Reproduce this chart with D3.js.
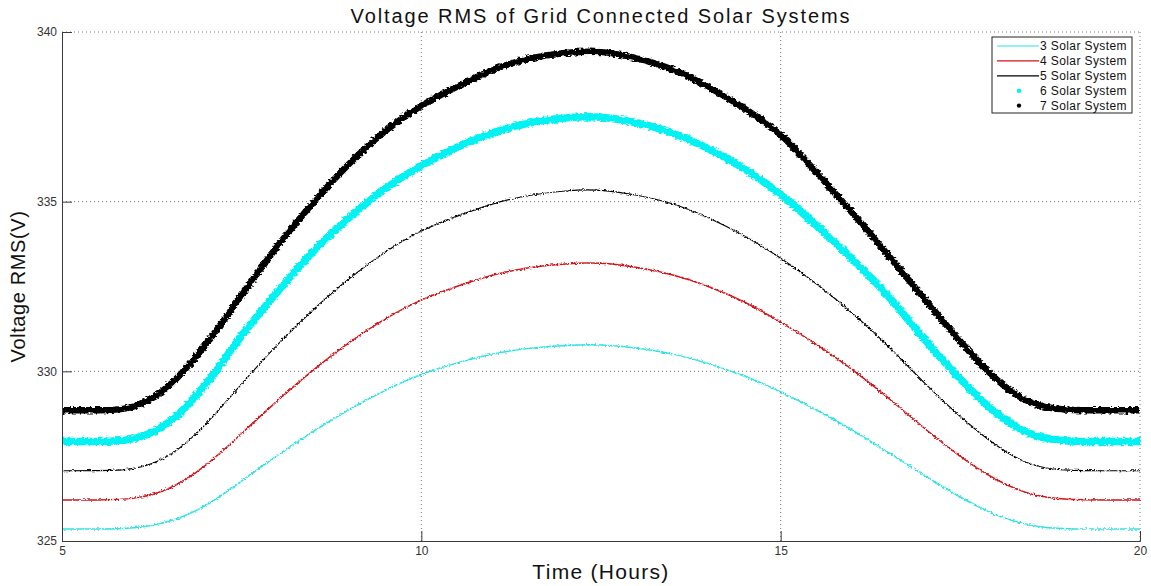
<!DOCTYPE html>
<html>
<head>
<meta charset="utf-8">
<script src="https://cdn.jsdelivr.net/npm/d3@7"></script>
<style>
  body { margin: 0; background: #fff; }
  svg { display: block; font-family: "Liberation Sans", Arial, sans-serif; }
</style>
</head>
<body>
<div id="chart"></div>
<script>
// hours, every half hour
var hours = [5, 5.5, 6, 6.5, 7, 7.5, 8, 8.5, 9, 9.5, 10, 10.5, 11, 11.5, 12, 12.5,
             13, 13.5, 14, 14.5, 15, 15.5, 16, 16.5, 17, 17.5, 18, 18.5, 19, 19.5, 20];

var sys3 = [325.35, 325.35, 325.36, 325.54, 326.00, 326.77, 327.53, 328.24, 328.89, 329.46, 329.93, 330.26, 330.53, 330.69, 330.77, 330.80,
            330.69, 330.53, 330.23, 329.87, 329.41, 328.87, 328.27, 327.61, 326.93, 326.28, 325.73, 325.42, 325.35, 325.35, 325.35];
var sys4 = [326.21, 326.21, 326.22, 326.49, 327.19, 328.17, 329.15, 330.06, 330.87, 331.57, 332.13, 332.51, 332.86, 333.07, 333.18, 333.21,
            333.07, 332.86, 332.51, 332.06, 331.46, 330.80, 330.06, 329.22, 328.31, 327.47, 326.77, 326.32, 326.21, 326.21, 326.21];
var sys5 = [327.07, 327.07, 327.08, 327.44, 328.40, 329.64, 330.81, 331.84, 332.76, 333.54, 334.17, 334.58, 334.96, 335.20, 335.33, 335.37,
            335.20, 334.96, 334.54, 334.00, 333.35, 332.59, 331.72, 330.76, 329.64, 328.65, 327.78, 327.17, 327.07, 327.07, 327.07];
var sys6 = [327.93, 327.93, 327.94, 328.41, 329.56, 331.10, 332.35, 333.59, 334.55, 335.42, 336.09, 336.62, 337.05, 337.34, 337.48, 337.53,
            337.34, 337.05, 336.57, 335.99, 335.23, 334.31, 333.31, 332.25, 330.91, 329.75, 328.70, 328.05, 327.93, 327.93, 327.93];
var sys7 = [328.85, 328.85, 328.86, 329.49, 330.76, 332.24, 333.73, 335.00, 336.16, 337.12, 337.86, 338.39, 338.92, 339.24, 339.40, 339.45,
            339.24, 338.92, 338.39, 337.75, 337.05, 335.85, 334.68, 333.41, 332.14, 330.86, 329.70, 328.96, 328.85, 328.85, 328.85];

var seriesNames = ["3 Solar System", "4 Solar System", "5 Solar System", "6 Solar System", "7 Solar System"];
var xTicks = [5, 10, 15, 20];
var yTicks = [325, 330, 335, 340];

var outerWidth = 1151,
    outerHeight = 586,
    margin = { top: 32, right: 11, bottom: 45, left: 62 },
    width = outerWidth - margin.left - margin.right,
    height = outerHeight - margin.top - margin.bottom;

var x = d3.scaleLinear().domain([5, 20]).range([0, width]);
var y = d3.scaleLinear().domain([325, 340]).range([height, 0]);

var series = [
    { name: seriesNames[0], values: sys3, color: "#30e2e2", w: 1.5, jitter: "url(#jitterThin)" },
    { name: seriesNames[1], values: sys4, color: "#d0161b", w: 1.5, jitter: "url(#jitterThin)" },
    { name: seriesNames[2], values: sys5, color: "#000000", w: 1.2, jitter: "url(#jitterThin)" },
    { name: seriesNames[3], values: sys6, color: "#00f2f2", w: 7.5, jitter: "url(#jitterThick)", dot: true },
    { name: seriesNames[4], values: sys7, color: "#000000", w: 6.5, jitter: "url(#jitterThick)", dot: true }
];

var svg = d3.select("#chart")
    .append("svg")
    .attr("width", outerWidth)
    .attr("height", outerHeight);

// rough edges like the sampled signal
var defs = svg.append("defs");
function jitterFilter(id, freq, scale) {
    var f = defs.append("filter")
        .attr("id", id)
        .attr("filterUnits", "userSpaceOnUse")
        .attr("x", 0).attr("y", 0)
        .attr("width", outerWidth).attr("height", outerHeight);
    f.append("feTurbulence")
        .attr("type", "fractalNoise")
        .attr("baseFrequency", freq)
        .attr("numOctaves", 2)
        .attr("seed", 3)
        .attr("result", "noise");
    f.append("feDisplacementMap")
        .attr("in", "SourceGraphic")
        .attr("in2", "noise")
        .attr("scale", scale)
        .attr("xChannelSelector", "R")
        .attr("yChannelSelector", "G");
}
jitterFilter("jitterThick", "0.3 0.45", 5);
jitterFilter("jitterThin", "0.45 0.8", 3.5);

var g = svg.append("g")
    .attr("transform", "translate(" + margin.left + "," + margin.top + ")");

// dotted grid
g.selectAll(".vgrid")
    .data(xTicks.slice(1))
    .enter().append("line")
    .attr("class", "vgrid")
    .attr("x1", function(d) { return x(d); })
    .attr("x2", function(d) { return x(d); })
    .attr("y1", 0)
    .attr("y2", height)
    .style("stroke", "#777")
    .style("stroke-width", 1)
    .style("stroke-dasharray", "1,3");

g.selectAll(".hgrid")
    .data(yTicks.slice(1))
    .enter().append("line")
    .attr("class", "hgrid")
    .attr("x1", 0)
    .attr("x2", width)
    .attr("y1", function(d) { return y(d); })
    .attr("y2", function(d) { return y(d); })
    .style("stroke", "#777")
    .style("stroke-width", 1)
    .style("stroke-dasharray", "1,3");

var line = d3.line()
    .x(function(d, i) { return x(hours[i]); })
    .y(function(d) { return y(d); })
    .curve(d3.curveBasis);

g.selectAll(".series")
    .data(series)
    .enter().append("path")
    .attr("class", "series")
    .attr("d", function(d) { return line(d.values); })
    .attr("filter", function(d) { return d.jitter; })
    .style("fill", "none")
    .style("stroke", function(d) { return d.color; })
    .style("stroke-width", function(d) { return d.w; })
    .style("stroke-linejoin", "round");

// axes (matlab style, ticks inward)
var xAxis = d3.axisBottom(x).tickValues(xTicks).tickSize(-10).tickPadding(14);
var yAxis = d3.axisLeft(y).tickValues(yTicks).tickSize(-10).tickPadding(16);

var gx = g.append("g")
    .attr("transform", "translate(0," + height + ")")
    .call(xAxis);
var gy = g.append("g")
    .call(yAxis);

[gx, gy].forEach(function(a) {
    a.select(".domain").style("stroke", "#3a3a3a");
    a.selectAll(".tick line").style("stroke", "#3a3a3a");
    a.selectAll(".tick text")
        .style("font-family", "Liberation Sans, Arial, sans-serif")
        .style("font-size", "12px")
        .style("fill", "#333");
});
gx.selectAll(".tick text").attr("y", 5).attr("dy", "0.71em");
gy.selectAll(".tick text").attr("x", -5);

// titles
svg.append("text")
    .attr("x", margin.left + width / 2)
    .attr("y", 23)
    .style("text-anchor", "middle")
    .style("font-size", "20px")
    .style("letter-spacing", "1.9px")
    .style("fill", "#111")
    .text("Voltage RMS of Grid Connected Solar Systems");

svg.append("text")
    .attr("x", margin.left + width / 2)
    .attr("y", 579)
    .style("text-anchor", "middle")
    .style("font-size", "21px")
    .style("letter-spacing", "1.3px")
    .style("fill", "#111")
    .text("Time (Hours)");

svg.append("text")
    .attr("transform", "translate(25," + (margin.top + height / 2) + ") rotate(-90)")
    .style("text-anchor", "middle")
    .style("font-size", "20px")
    .style("letter-spacing", "0.6px")
    .style("fill", "#111")
    .text("Voltage RMS(V)");

// legend
var legend = svg.append("g")
    .attr("transform", "translate(992,37)");

legend.append("rect")
    .attr("width", 140)
    .attr("height", 76)
    .style("fill", "#fff")
    .style("stroke", "#222")
    .style("stroke-width", 1);

var item = legend.selectAll(".legend")
    .data(series)
    .enter().append("g")
    .attr("class", "legend")
    .attr("transform", function(d, i) { return "translate(0," + (9 + i * 14.9) + ")"; });

item.filter(function(d) { return !d.dot; })
    .append("line")
    .attr("x1", 5)
    .attr("x2", 47)
    .style("stroke", function(d) { return d.color; })
    .style("stroke-width", 1.2);

item.filter(function(d) { return d.dot; })
    .append("circle")
    .attr("cx", 27)
    .attr("r", 2.2)
    .style("fill", function(d) { return d.color; });

item.append("text")
    .attr("x", 48)
    .attr("dy", "0.35em")
    .style("font-size", "12px")
    .style("letter-spacing", "0.4px")
    .style("fill", "#111")
    .text(function(d) { return d.name; });
</script>
</body>
</html>
